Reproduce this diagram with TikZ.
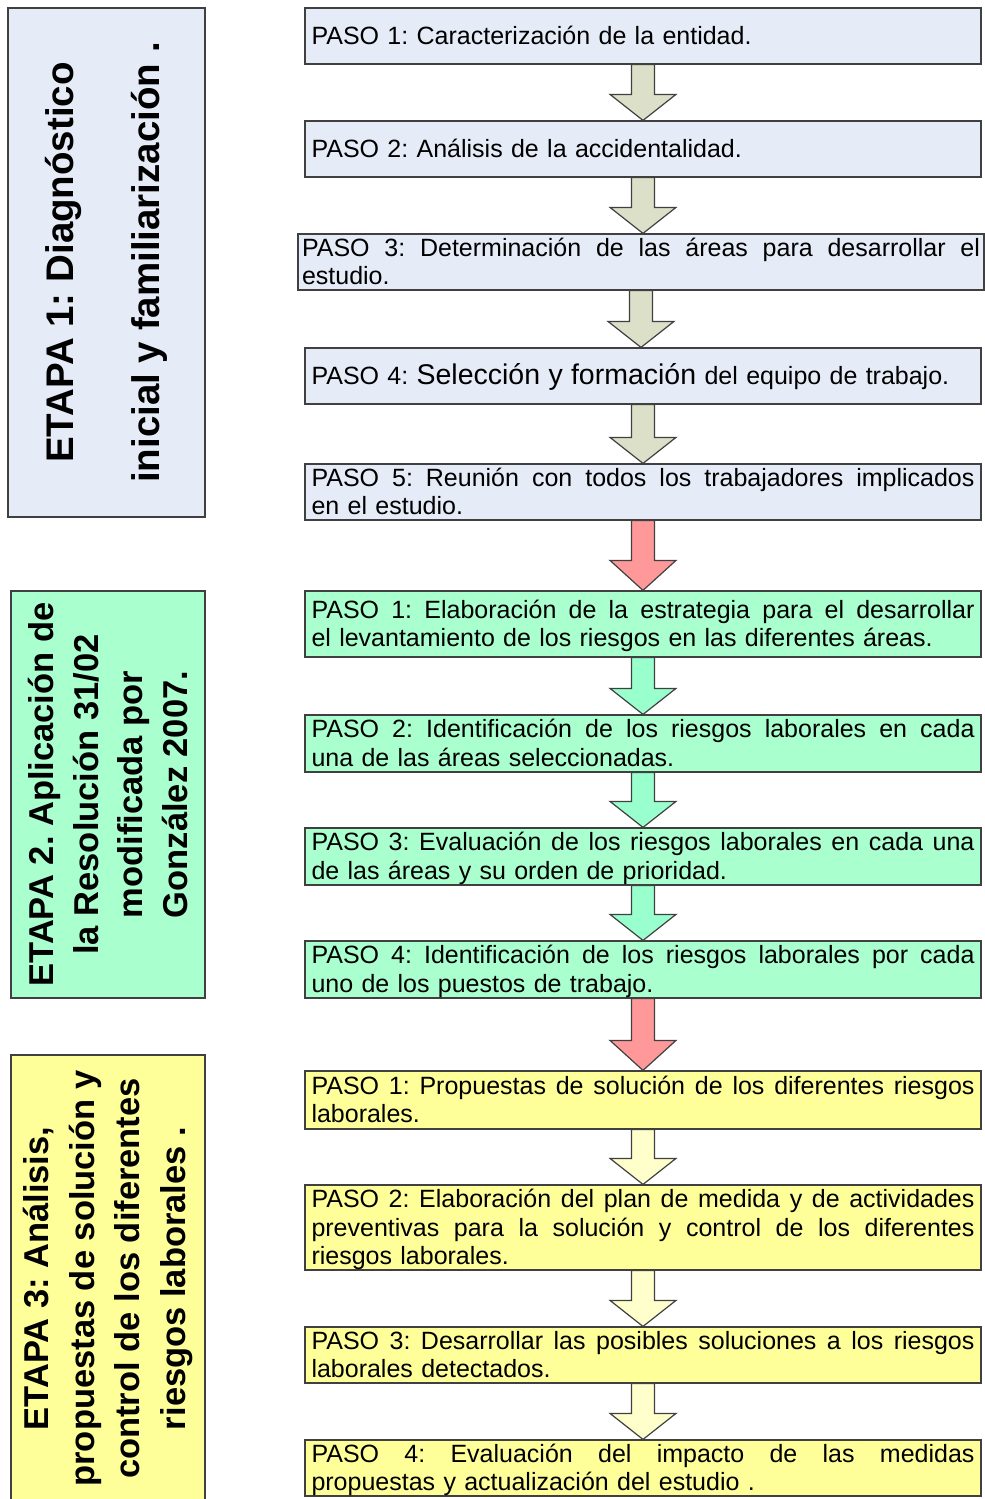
\documentclass[tikz,border=0pt]{standalone}
\usepackage{fontspec}
\setmainfont{Liberation Sans}
\usetikzlibrary{calc}
\frenchspacing
\definecolor{bluefill}{RGB}{230,236,247}
\definecolor{greenfill}{RGB}{170,255,206}
\definecolor{yellowfill}{RGB}{255,255,153}
\definecolor{olivearrow}{RGB}{221,224,200}
\definecolor{redarrow}{RGB}{255,153,153}
\definecolor{greenarrow}{RGB}{153,255,204}
\definecolor{yellowarrow}{RGB}{255,255,204}
\definecolor{edgecol}{RGB}{64,64,64}
\newcommand\jl[1]{\hbox to \hsize{\spaceskip=\fontdimen2\font plus 1fil\relax\strut #1}}
\newcommand\lastln[1]{\hbox{\strut #1}}
\newcommand\topstrut{\rule{0pt}{13pt}}
\newcommand\steptext[1]{\vbox{#1}}
\newcommand\blockarr[4]{%
  \draw[arrowline, fill=#3] let \p1=(#1.south), \p2=(#2.north) in
   (\x1-5.75pt,\y1) -- (\x1+5.75pt,\y1) -- (\x1+5.75pt,\y2+#4) -- (\x1+16.5pt,\y2+#4)
   -- (\x1,\y2) -- (\x1-16.5pt,\y2+#4) -- (\x1-5.75pt,\y2+#4) -- cycle;}
\begin{document}
\begin{tikzpicture}[x=0.5pt,y=-0.5pt,
  stepbox/.style={draw=edgecol, line width=0.6pt, inner sep=0pt, minimum width=338pt},
  steplabel/.style={inner sep=0pt, text width=331.5pt, align=left,
    font=\fontsize{12.5}{14.25}\selectfont},
  etapabox/.style={draw=edgecol, line width=0.6pt, inner sep=0pt, rotate=90, align=center},
  arrowline/.style={draw=edgecol, line width=0.6pt, line join=miter}]
\useasboundingbox (0,0) rectangle (985,1499);

% ---- left stage boxes
\node[etapabox, fill=bluefill, minimum width=254.5pt, minimum height=98.5pt,
  font=\bfseries\fontsize{19.25}{43}\selectfont] (E1) at (106.5,262.5)
  {ETAPA 1: Diagnóstico\\inicial y familiarización .};
\node[etapabox, fill=greenfill, minimum width=203.5pt, minimum height=97pt,
  font=\bfseries\fontsize{17.25}{22.4}\selectfont] (E2) at (108,794.5)
  {ETAPA 2. Aplicación de\\la Resolución 31/02\\modificada por\\González 2007.};
\node[etapabox, fill=yellowfill, minimum width=223.5pt, minimum height=97pt,
  font=\bfseries\fontsize{17.25}{22.8}\selectfont] (E3) at (108,1278.5)
  {ETAPA 3: Análisis,\\propuestas de solución y\\control de los diferentes\\riesgos laborales .};

% ---- stage 1 steps
\node[stepbox, fill=bluefill, minimum height=28pt] (a1) at (643,36) {};
\node[steplabel] (a1t) at (a1.center)
  {\steptext{\lastln{\topstrut PASO 1: Caracterización de la entidad.}}};
\node[stepbox, fill=bluefill, minimum height=28pt] (a2) at (643,149) {};
\node[steplabel] (a2t) at (a2.center)
  {\steptext{\lastln{\topstrut PASO 2: Análisis de la accidentalidad.}}};
\node[stepbox, fill=bluefill, minimum height=28pt, minimum width=343pt] (a3) at (641,262) {};
\node[steplabel, text width=339pt] (a3t) at (a3.center)
  {\steptext{\jl{\topstrut PASO 3: Determinación de las áreas para desarrollar el}\lastln{estudio.}}};
\node[stepbox, fill=bluefill, minimum height=28pt] (a4) at (643,376) {};
\node[steplabel] (a4t) at (a4.center)
  {\steptext{\lastln{\topstrut PASO 4: {\fontsize{14.25}{14.25}\selectfont Selección y formación} del equipo de trabajo.}}};
\node[stepbox, fill=bluefill, minimum height=28pt] (a5) at (643,492) {};
\node[steplabel] (a5t) at (a5.center)
  {\steptext{\jl{\topstrut PASO 5: Reunión con todos los trabajadores implicados}\lastln{en el estudio.}}};

% ---- stage 2 steps
\node[stepbox, fill=greenfill, minimum height=33pt] (b1) at (643,624) {};
\node[steplabel] (b1t) at (b1.center)
  {\steptext{\jl{\topstrut PASO 1: Elaboración de la estrategia para el desarrollar}\lastln{el levantamiento de los riesgos en las diferentes áreas.}}};
\node[stepbox, fill=greenfill, minimum height=28.5pt] (b2) at (643,743.5) {};
\node[steplabel] (b2t) at (b2.center)
  {\steptext{\jl{\topstrut PASO 2: Identificación de los riesgos laborales en cada}\lastln{una de las áreas seleccionadas.}}};
\node[stepbox, fill=greenfill, minimum height=28.5pt] (b3) at (643,856.5) {};
\node[steplabel] (b3t) at (b3.center)
  {\steptext{\jl{\topstrut PASO 3: Evaluación de los riesgos laborales en cada una}\lastln{de las áreas y su orden de prioridad.}}};
\node[stepbox, fill=greenfill, minimum height=28.5pt] (b4) at (643,969.5) {};
\node[steplabel] (b4t) at (b4.center)
  {\steptext{\jl{\topstrut PASO 4: Identificación de los riesgos laborales por cada}\lastln{uno de los puestos de trabajo.}}};

% ---- stage 3 steps
\node[stepbox, fill=yellowfill, minimum height=29pt] (c1) at (643,1100) {};
\node[steplabel] (c1t) at (c1.center)
  {\steptext{\jl{\topstrut PASO 1: Propuestas de solución de los diferentes riesgos}\lastln{laborales.}}};
\node[stepbox, fill=yellowfill, minimum height=42.5pt] (c2) at (643,1227.5) {};
\node[steplabel] (c2t) at (c2.center)
  {\steptext{\jl{\topstrut PASO 2: Elaboración del plan de medida y de actividades}\jl{preventivas para la solución y control de los diferentes}\lastln{riesgos laborales.}}};
\node[stepbox, fill=yellowfill, minimum height=28pt] (c3) at (643,1355) {};
\node[steplabel] (c3t) at (c3.center)
  {\steptext{\jl{\topstrut PASO 3: Desarrollar las posibles soluciones a los riesgos}\lastln{laborales detectados.}}};
\node[stepbox, fill=yellowfill, minimum height=28pt] (c4) at (643,1468) {};
\node[steplabel] (c4t) at (c4.center)
  {\steptext{\jl{\topstrut PASO 4: Evaluación del impacto de las medidas}\lastln{propuestas y actualización del estudio .}}};

% ---- block arrows
\blockarr{a1}{a2}{olivearrow}{13pt}
\blockarr{a2}{a3}{olivearrow}{13pt}
\blockarr{a3}{a4}{olivearrow}{13pt}
\blockarr{a4}{a5}{olivearrow}{13pt}
\blockarr{a5}{b1}{redarrow}{15pt}
\blockarr{b1}{b2}{greenarrow}{13pt}
\blockarr{b2}{b3}{greenarrow}{13pt}
\blockarr{b3}{b4}{greenarrow}{13pt}
\blockarr{b4}{c1}{redarrow}{15pt}
\blockarr{c1}{c2}{yellowarrow}{13pt}
\blockarr{c2}{c3}{yellowarrow}{13pt}
\blockarr{c3}{c4}{yellowarrow}{13pt}
\end{tikzpicture}
\end{document}
